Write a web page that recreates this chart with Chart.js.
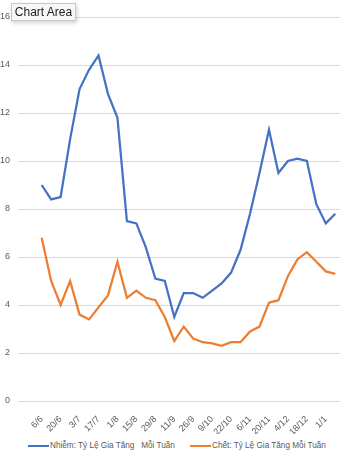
<!DOCTYPE html>
<html>
<head>
<meta charset="utf-8">
<script src="https://cdn.jsdelivr.net/npm/chart.js@4.4.1/dist/chart.umd.min.js"></script>
<style>
  html, body { margin: 0; padding: 0; background: #fff; }
  #wrap { position: relative; width: 351px; height: 456px; overflow: hidden; font-family: "Liberation Sans", Arial, sans-serif; }
  #chart { position: absolute; left: 0; top: 0; }
  #tip {
    position: absolute; left: 11px; top: 3px; width: 65px; height: 18px;
    box-sizing: border-box; background: #f7f7f7; border: 1px solid #c8c8c8;
    box-shadow: 1px 2px 4px rgba(0,0,0,0.18);
    font-size: 12px; line-height: 16px; color: #222; text-align: center;
  }
  #legend { position: absolute; top: 439px; left: 0; width: 351px; font-size: 8.2px; color: #595959; }
  .item { position: absolute; top: 0; white-space: pre; line-height: 14px; }
  .swatch { display: inline-block; width: 21px; height: 2px; vertical-align: middle; margin-right: 1px; }
</style>
</head>
<body>
<div id="wrap">
  <canvas id="chart" width="351" height="434"></canvas>
  <div id="tip">Chart Area</div>
  <div id="legend">
    <span class="item" style="left:28px"><span class="swatch" style="background:#4472C4"></span>Nhiễm: Tỷ Lệ Gia Tăng   Mỗi Tuần</span>
    <span class="item" style="left:190px"><span class="swatch" style="background:#ED7D31"></span>Chết: Tỷ Lệ Gia Tăng Mỗi Tuần</span>
  </div>
</div>
<script>
// nhãn hiển thị trên trục X (mỗi 2 tuần)
const tickLabels = ['6/6', '20/6', '3/7', '17/7', '1/8', '15/8', '29/8', '11/9',
                    '26/9', '9/10', '22/10', '6/11', '20/11', '4/12', '18/12', '1/1'];

// dữ liệu hàng tuần
const infections = [9.0, 8.4, 8.5, 10.9, 13.0, 13.8, 14.4, 12.8, 11.8, 7.5, 7.4, 6.4,
                    5.1, 5.0, 3.5, 4.5, 4.5, 4.3, 4.6, 4.9, 5.35, 6.3, 7.8, 9.5,
                    11.3, 9.5, 10.0, 10.1, 10.0, 8.2, 7.4, 7.8];
const deaths = [6.8, 5.0, 4.0, 5.0, 3.6, 3.4, 3.9, 4.4, 5.8, 4.3, 4.6, 4.3,
                4.2, 3.5, 2.5, 3.1, 2.6, 2.45, 2.4, 2.3, 2.45, 2.45, 2.9, 3.1,
                4.1, 4.2, 5.2, 5.9, 6.2, 5.8, 5.4, 5.3];

const yTicks = [0, 2, 4, 6, 8, 10, 12, 14, 16];

// hai ô trống ở đầu trục, sau đó nhãn xen kẽ
const categories = ['', ''];
infections.forEach((v, i) => {
    categories.push(i % 2 === 0 ? tickLabels[i / 2] : '');
});
const pad = [null, null];

const ctx = document.getElementById('chart').getContext('2d');
new Chart(ctx, {
    type: 'line',
    data: {
        labels: categories,
        datasets: [{
            label: 'Nhiễm: Tỷ Lệ Gia Tăng   Mỗi Tuần',
            data: pad.concat(infections),
            borderColor: '#4472C4',
            borderWidth: 2.25,
            pointRadius: 0,
            tension: 0
        },
        {
            label: 'Chết: Tỷ Lệ Gia Tăng Mỗi Tuần',
            data: pad.concat(deaths),
            borderColor: '#ED7D31',
            borderWidth: 2.25,
            pointRadius: 0,
            tension: 0
        }]
    },
    options: {
        responsive: false,
        animation: false,
        layout: { padding: { top: 17, right: 11, left: 0, bottom: 0 } },
        plugins: {
            legend: { display: false },
            tooltip: { enabled: false }
        },
        scales: {
            x: {
                offset: true,
                grid: { display: false },
                border: { display: false },
                ticks: {
                    autoSkip: false,
                    minRotation: 45,
                    maxRotation: 45,
                    padding: 5,
                    color: '#595959',
                    font: { family: 'Liberation Sans', size: 9 },
                    callback: function(val, i) { return categories[i]; }
                },
                afterFit: function(scale) { scale.height = 33; }
            },
            y: {
                min: 0,
                max: 16,
                afterBuildTicks: function(scale) {
                    scale.ticks = yTicks.map(v => ({ value: v }));
                },
                grid: { color: '#d9d9d9', drawTicks: false, lineWidth: 1 },
                border: { display: false },
                ticks: {
                    padding: 8,
                    color: '#595959',
                    font: { family: 'Liberation Sans', size: 9 }
                },
                afterFit: function(scale) { scale.width = 18; }
            }
        }
    }
});
</script>
</body>
</html>
